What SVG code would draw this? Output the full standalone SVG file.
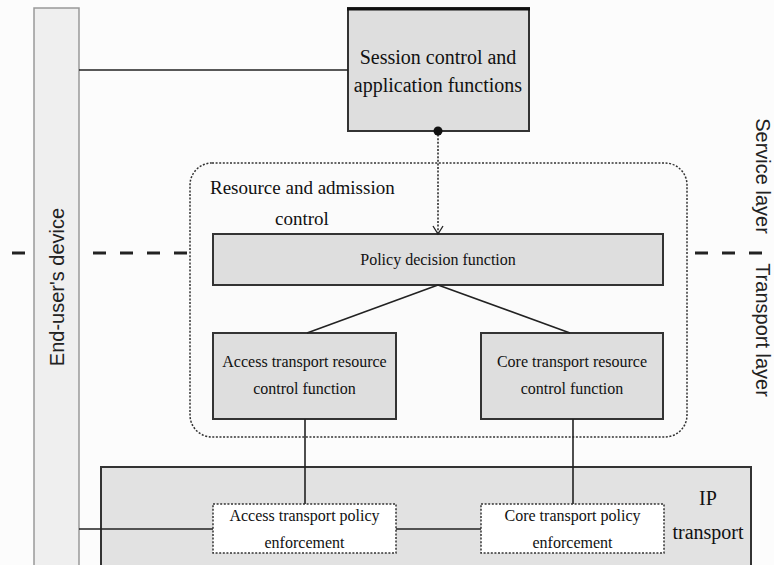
<svg xmlns="http://www.w3.org/2000/svg" width="774" height="565" viewBox="0 0 774 565">
<defs>
<style>
.box{fill:#dedede;stroke:#333;stroke-width:2}
.dbox{fill:#ffffff;stroke:#333;stroke-width:1.5;stroke-dasharray:2 1.6}
.ln{stroke:#222;stroke-width:1.6;fill:none}
.dash{stroke:#222;stroke-width:3;stroke-dasharray:13 14;fill:none}
.t{font-family:"Liberation Serif","Times New Roman",serif;fill:#111;text-anchor:middle}
.ts{text-anchor:start}
.s{font-family:"Liberation Sans",Arial,sans-serif;fill:#222;text-anchor:middle;font-size:20px}
</style>
</defs>
<rect x="0" y="0" width="774" height="565" fill="#fcfcfc"/>
<g id="layer-lines">
<line class="dash" x1="12" y1="253" x2="190" y2="253"/>
<line class="dash" x1="695" y1="253" x2="762" y2="253"/>
</g>
<g id="end-user-device">
<rect x="34" y="8" width="45" height="570" fill="#efefef" stroke="#999" stroke-width="1.5"/>
<text class="s" transform="translate(64,287) rotate(-90)">End-user's device</text>
</g>
<g id="layer-labels">
<text class="s" transform="translate(756,176) rotate(90)">Service layer</text>
<text class="s" transform="translate(756,330) rotate(90)">Transport layer</text>
</g>
<g id="ip-transport">
<rect x="101" y="467" width="650" height="110" fill="#e2e2e2" stroke="#333" stroke-width="2"/>
<text class="t" font-size="20" x="708" y="505">IP</text>
<text class="t" font-size="20" x="708" y="539">transport</text>
</g>
<g id="resource-admission-control">
<rect x="190" y="163" width="497" height="274" rx="22" fill="#fbfbfb" stroke="#333" stroke-width="1.5" stroke-dasharray="2 1.6"/>
<text class="t ts" font-size="19" x="210" y="194">Resource and admission</text>
<text class="t" font-size="19" x="302" y="225">control</text>
</g>
<g id="session-control">
<rect class="box" x="348" y="8" width="181" height="123"/>
<line x1="347" y1="9" x2="530" y2="9" stroke="#111" stroke-width="3"/>
<text class="t" font-size="20" x="438" y="64">Session control and</text>
<text class="t" font-size="20" x="438" y="92">application functions</text>
</g>
<g id="policy-decision">
<rect class="box" x="213" y="234" width="450" height="51"/>
<text class="t" font-size="16" x="438" y="265">Policy decision function</text>
</g>
<g id="access-resource-control">
<rect class="box" x="213" y="333" width="183" height="86"/>
<text class="t" font-size="16" x="304.5" y="367">Access transport resource</text>
<text class="t" font-size="16" x="304.5" y="394">control function</text>
</g>
<g id="core-resource-control">
<rect class="box" x="481" y="333" width="182" height="86"/>
<text class="t" font-size="16" x="572" y="367">Core transport resource</text>
<text class="t" font-size="16" x="572" y="394">control function</text>
</g>
<g id="connectors">
<line class="ln" x1="79" y1="70" x2="348" y2="70"/>
<line x1="438" y1="131" x2="438" y2="233" stroke="#222" stroke-width="1.5" stroke-dasharray="2 1.6"/>
<circle cx="438" cy="131" r="4.5" fill="#111"/>
<polyline points="433,226 438,234 443,226" fill="none" stroke="#222" stroke-width="1.3"/>
<line class="ln" x1="438" y1="285" x2="307" y2="333"/>
<line class="ln" x1="438" y1="285" x2="570" y2="333"/>
<line class="ln" x1="305" y1="419" x2="305" y2="504"/>
<line class="ln" x1="573" y1="419" x2="573" y2="504"/>
<line class="ln" x1="79" y1="529" x2="213" y2="529"/>
<line class="ln" x1="396" y1="529" x2="481" y2="529"/>
</g>
<g id="access-enforcement">
<rect class="dbox" x="213" y="504" width="183" height="49"/>
<text class="t" font-size="16" x="304.5" y="521">Access transport policy</text>
<text class="t" font-size="16" x="304.5" y="548">enforcement</text>
</g>
<g id="core-enforcement">
<rect class="dbox" x="481" y="504" width="183" height="49"/>
<text class="t" font-size="16" x="572.5" y="521">Core transport policy</text>
<text class="t" font-size="16" x="572.5" y="548">enforcement</text>
</g>
</svg>
